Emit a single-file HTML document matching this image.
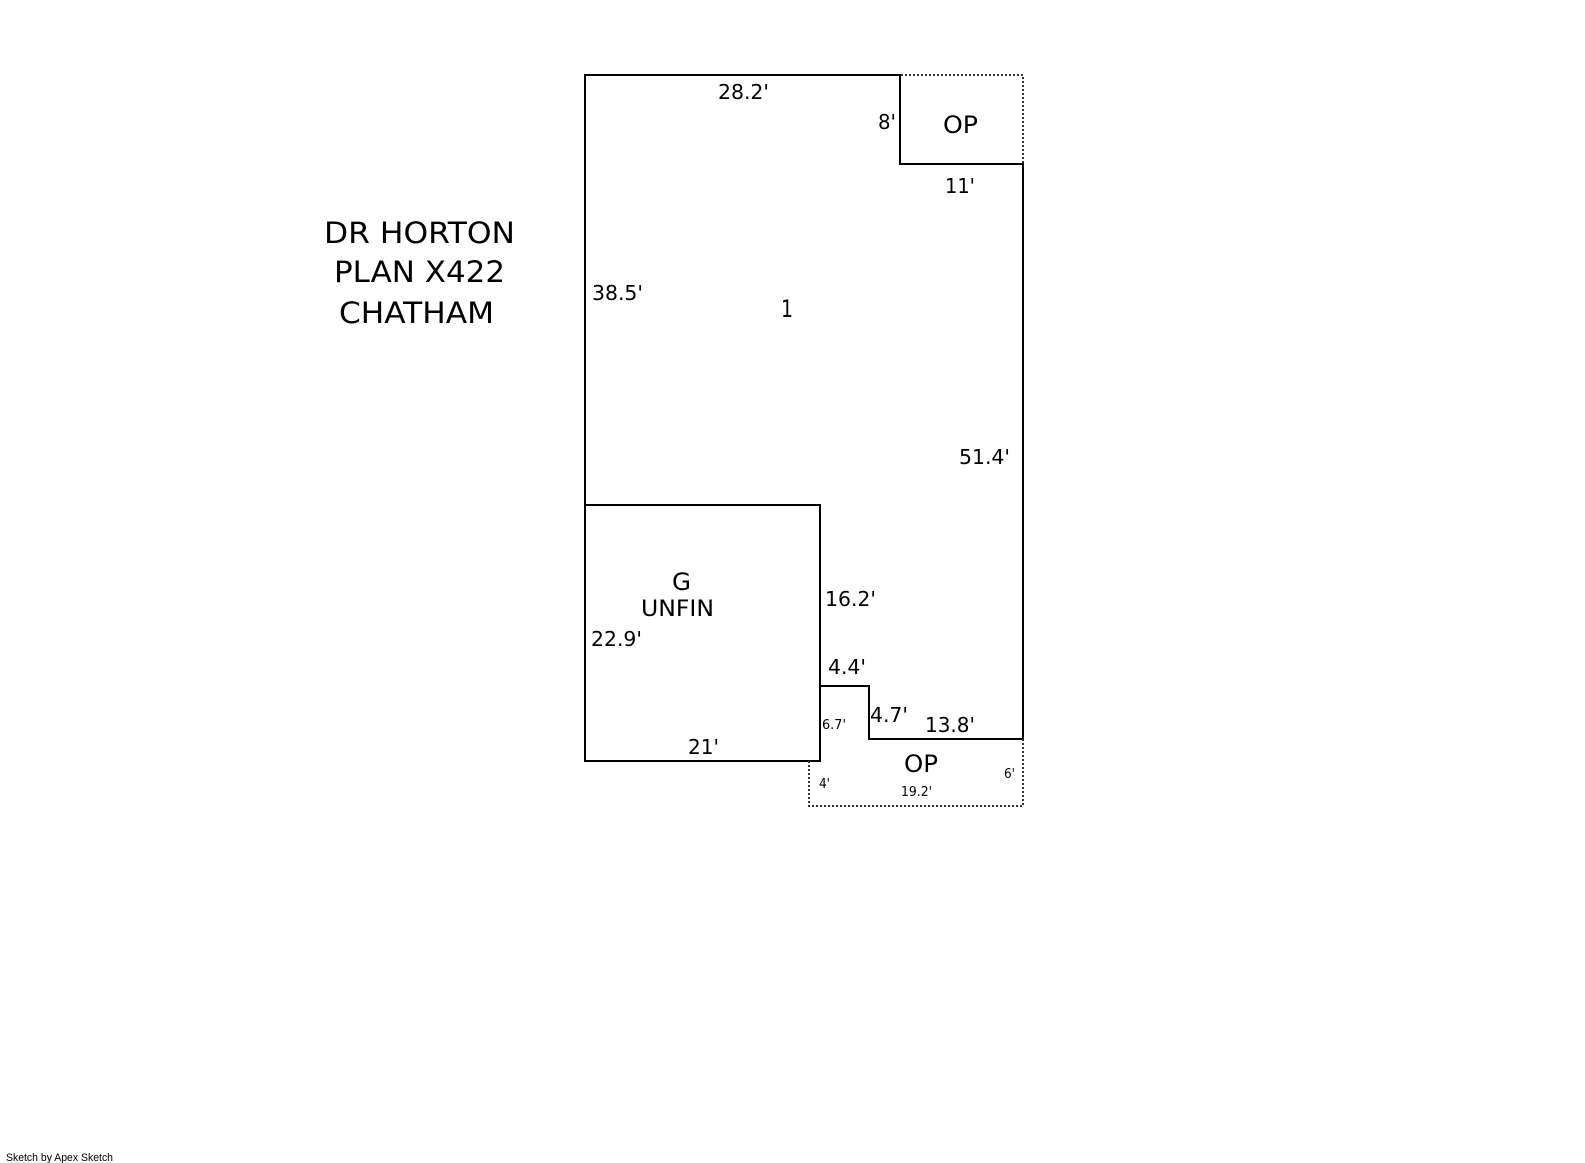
<!DOCTYPE html>
<html>
<head>
<meta charset="utf-8">
<style>
html,body{margin:0;padding:0;background:#fff;width:1585px;height:1163px;overflow:hidden}
svg{display:block}
text{font-family:"DejaVu Sans","Liberation Sans",sans-serif;fill:#000}
</style>
</head>
<body>
<svg width="1585" height="1163" viewBox="0 0 1585 1163" xmlns="http://www.w3.org/2000/svg">
<rect width="1585" height="1163" fill="#fff"/>
<g fill="none" stroke="#000" stroke-width="2">
<path d="M585 75H900V164H1023V739H869V686H820V761H585Z"/>
<path d="M585 505H820V686"/>
</g>
<g fill="none" stroke="#333" stroke-width="2" stroke-dasharray="2 2">
<path d="M901 75H1023V164"/>
<path d="M1023 739V806H809V761"/>
</g>
<g>
<text x="324" y="243" font-size="29" textLength="191" lengthAdjust="spacingAndGlyphs">DR HORTON</text>
<text x="334" y="282" font-size="29" textLength="171" lengthAdjust="spacingAndGlyphs">PLAN X422</text>
<text x="339" y="323" font-size="29" textLength="155" lengthAdjust="spacingAndGlyphs">CHATHAM</text>
<text x="718" y="99" font-size="20" textLength="51" lengthAdjust="spacingAndGlyphs">28.2'</text>
<text x="878" y="129" font-size="20" textLength="18" lengthAdjust="spacingAndGlyphs">8'</text>
<text x="943" y="133" font-size="24" textLength="35" lengthAdjust="spacingAndGlyphs">OP</text>
<text x="945" y="193" font-size="20" textLength="30" lengthAdjust="spacingAndGlyphs">11'</text>
<text x="592" y="300" font-size="20" textLength="51" lengthAdjust="spacingAndGlyphs">38.5'</text>
<text x="781" y="317" font-size="24" textLength="12" lengthAdjust="spacingAndGlyphs">1</text>
<text x="959" y="464" font-size="20" textLength="51" lengthAdjust="spacingAndGlyphs">51.4'</text>
<text x="672" y="590" font-size="24" textLength="19" lengthAdjust="spacingAndGlyphs">G</text>
<text x="641" y="616" font-size="22" textLength="73" lengthAdjust="spacingAndGlyphs">UNFIN</text>
<text x="591" y="646" font-size="20" textLength="51" lengthAdjust="spacingAndGlyphs">22.9'</text>
<text x="825" y="606" font-size="20" textLength="51" lengthAdjust="spacingAndGlyphs">16.2'</text>
<text x="688" y="754" font-size="20" textLength="31" lengthAdjust="spacingAndGlyphs">21'</text>
<text x="828" y="674" font-size="20" textLength="38" lengthAdjust="spacingAndGlyphs">4.4'</text>
<text x="870" y="722" font-size="20" textLength="38" lengthAdjust="spacingAndGlyphs">4.7'</text>
<text x="925" y="732" font-size="20" textLength="50" lengthAdjust="spacingAndGlyphs">13.8'</text>
<text x="822" y="729" font-size="13" textLength="24" lengthAdjust="spacingAndGlyphs">6.7'</text>
<text x="904" y="772" font-size="24" textLength="34" lengthAdjust="spacingAndGlyphs">OP</text>
<text x="819" y="788" font-size="13" textLength="11" lengthAdjust="spacingAndGlyphs">4'</text>
<text x="901" y="796" font-size="13" textLength="31" lengthAdjust="spacingAndGlyphs">19.2'</text>
<text x="1004" y="778" font-size="13" textLength="11" lengthAdjust="spacingAndGlyphs">6'</text>
<text x="6" y="1161" font-size="11" textLength="107" lengthAdjust="spacingAndGlyphs" style="font-family:'Liberation Sans',sans-serif">Sketch by Apex Sketch</text>
</g>
</svg>
</body>
</html>
